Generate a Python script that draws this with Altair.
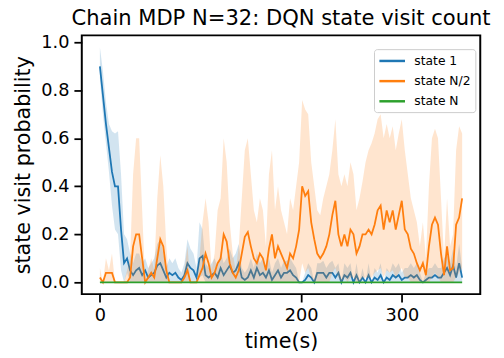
import altair as alt
import pandas as pd

# time grid (seconds)
t = list(range(0, 361, 3))

series = ["state 1", "state N/2", "state N"]
colors = ["#1f77b4", "#ff7f0e", "#2ca02c"]

blue_mean = [
    0.9, 0.78, 0.66, 0.56, 0.46, 0.4, 0.4, 0.22, 0.08, 0.1,
    0.05, 0.03, 0.05, 0.06, 0.03, 0.05, 0.02, 0.03, 0.04, 0.07,
    0.08, 0.05, 0.02, 0.04, 0.03, 0.04, 0.02, 0.01, 0.03, 0.08,
    0.06, 0.05, 0.02, 0.1, 0.11, 0.03, 0.02, 0.03, 0.04, 0.02,
    0.06, 0.03, 0.05, 0.07, 0.04, 0.05, 0.08, 0.02, 0.01, 0.02,
    0.05, 0.02, 0.06, 0.03, 0.04, 0.02, 0.05, 0.01, 0.03, 0.05,
    0.02, 0.04, 0.04, 0.05, 0.03, 0.02, 0.0, 0.0, 0.01, 0.03,
    0.02, 0.0, 0.04, 0.04, 0.04, 0.02, 0.04, 0.04, 0.02, 0.04,
    0.0, 0.03, 0.02, 0.04, 0.0, 0.03, 0.0, 0.02, 0.0, 0.03,
    0.0, 0.02, 0.01, 0.03, 0.0, 0.02, 0.01, 0.03, 0.02, 0.03,
    0.01, 0.02, 0.02, 0.03, 0.02, 0.03, 0.01, 0.0, 0.01, 0.02,
    0.02, 0.03, 0.02, 0.02, 0.04, 0.06, 0.03, 0.07, 0.02, 0.08,
    0.02,
]
blue_hi = [
    0.98, 0.88, 0.75, 0.66, 0.63, 0.62, 0.63, 0.45, 0.2, 0.18,
    0.12, 0.08, 0.12, 0.12, 0.08, 0.1, 0.06, 0.08, 0.1, 0.16,
    0.18, 0.12, 0.06, 0.1, 0.08, 0.1, 0.06, 0.04, 0.08, 0.18,
    0.14, 0.12, 0.06, 0.25, 0.22, 0.08, 0.06, 0.08, 0.1, 0.06,
    0.13, 0.08, 0.1, 0.14, 0.1, 0.12, 0.16, 0.06, 0.04, 0.06,
    0.1, 0.06, 0.12, 0.08, 0.1, 0.06, 0.1, 0.04, 0.08, 0.1,
    0.06, 0.09, 0.09, 0.1, 0.08, 0.06, 0.0, 0.0, 0.04, 0.08,
    0.06, 0.0, 0.08, 0.08, 0.09, 0.06, 0.08, 0.09, 0.06, 0.08,
    0.0, 0.08, 0.06, 0.08, 0.0, 0.08, 0.0, 0.06, 0.0, 0.08,
    0.0, 0.06, 0.04, 0.08, 0.0, 0.06, 0.04, 0.08, 0.06, 0.08,
    0.04, 0.06, 0.06, 0.08, 0.06, 0.08, 0.04, 0.0, 0.04, 0.06,
    0.06, 0.08, 0.06, 0.06, 0.1, 0.12, 0.08, 0.14, 0.06, 0.16,
    0.06,
]
blue_lo = [
    0.85, 0.7, 0.58, 0.46, 0.32, 0.22, 0.2, 0.05, 0.0, 0.04,
    0.0, 0.0, 0.0, 0.0, 0.0, 0.0, 0.0, 0.0, 0.0, 0.0,
    0.0, 0.0, 0.0, 0.0, 0.0, 0.0, 0.0, 0.0, 0.0, 0.0,
    0.0, 0.0, 0.0, 0.02, 0.03, 0.0, 0.0, 0.0, 0.0, 0.0,
    0.0, 0.0, 0.0, 0.0, 0.0, 0.0, 0.0, 0.0, 0.0, 0.0,
    0.0, 0.0, 0.0, 0.0, 0.0, 0.0, 0.0, 0.0, 0.0, 0.0,
    0.0, 0.0, 0.0, 0.0, 0.0, 0.0, 0.0, 0.0, 0.0, 0.0,
    0.0, 0.0, 0.0, 0.0, 0.0, 0.0, 0.0, 0.0, 0.0, 0.0,
    0.0, 0.0, 0.0, 0.0, 0.0, 0.0, 0.0, 0.0, 0.0, 0.0,
    0.0, 0.0, 0.0, 0.0, 0.0, 0.0, 0.0, 0.0, 0.0, 0.0,
    0.0, 0.0, 0.0, 0.0, 0.0, 0.0, 0.0, 0.0, 0.0, 0.0,
    0.0, 0.0, 0.0, 0.0, 0.0, 0.0, 0.0, 0.0, 0.0, 0.0,
    0.0,
]

orange_mean = [
    0.02, 0.0, 0.04, 0.04, 0.04, 0.0, 0.0, 0.0, 0.0, 0.0,
    0.02, 0.15, 0.2, 0.2, 0.1, 0.0, 0.02, 0.04, 0.02, 0.1,
    0.18, 0.15, 0.05, 0.0, 0.0, 0.0, 0.0, 0.0, 0.02, 0.05,
    0.0, 0.0, 0.0, 0.03, 0.06, 0.12, 0.08, 0.02, 0.04, 0.08,
    0.1, 0.2, 0.17, 0.08, 0.04, 0.02, 0.05, 0.12, 0.19, 0.21,
    0.15, 0.1, 0.08, 0.12, 0.1, 0.05, 0.14, 0.2, 0.1, 0.15,
    0.12, 0.09, 0.06, 0.12, 0.1, 0.15, 0.22, 0.4, 0.36, 0.38,
    0.25, 0.18, 0.12, 0.1, 0.12, 0.15, 0.2, 0.28, 0.34, 0.2,
    0.15, 0.2, 0.15, 0.22, 0.2, 0.12, 0.15, 0.2, 0.2, 0.22,
    0.2, 0.24, 0.3, 0.32, 0.22, 0.3, 0.25, 0.3, 0.22, 0.28,
    0.34, 0.22, 0.2, 0.14, 0.12, 0.08, 0.05, 0.08, 0.03, 0.15,
    0.24, 0.27, 0.24, 0.12, 0.03, 0.15, 0.05, 0.06, 0.24, 0.27,
    0.35,
]
orange_hi = [
    0.06, 0.0, 0.1, 0.05, 0.12, 0.0, 0.0, 0.0, 0.0, 0.05,
    0.1, 0.45, 0.6, 0.6, 0.3, 0.0, 0.05, 0.1, 0.05, 0.35,
    0.53, 0.4, 0.15, 0.0, 0.0, 0.0, 0.0, 0.0, 0.05, 0.15,
    0.0, 0.0, 0.0, 0.1, 0.25, 0.35, 0.25, 0.05, 0.12, 0.3,
    0.35, 0.6, 0.5, 0.25, 0.12, 0.05, 0.15, 0.35, 0.55, 0.6,
    0.45, 0.3, 0.25, 0.35, 0.3, 0.15, 0.45, 0.55, 0.3, 0.4,
    0.3, 0.25, 0.2, 0.35, 0.3, 0.4, 0.5, 0.76, 0.72, 0.7,
    0.5, 0.4, 0.3, 0.28, 0.35, 0.4, 0.45, 0.55, 0.68, 0.45,
    0.4, 0.45, 0.4, 0.5, 0.45, 0.3, 0.35, 0.42, 0.5, 0.55,
    0.58, 0.62, 0.68, 0.7, 0.6, 0.66, 0.6, 0.65, 0.55, 0.62,
    0.68, 0.55, 0.45, 0.35, 0.3, 0.25, 0.15, 0.25, 0.1, 0.4,
    0.6, 0.64, 0.6, 0.35, 0.1, 0.35, 0.15, 0.2, 0.55, 0.65,
    0.62,
]
orange_lo = [
    0.0, 0.0, 0.0, 0.0, 0.0, 0.0, 0.0, 0.0, 0.0, 0.0,
    0.0, 0.0, 0.0, 0.0, 0.0, 0.0, 0.0, 0.0, 0.0, 0.0,
    0.0, 0.0, 0.0, 0.0, 0.0, 0.0, 0.0, 0.0, 0.0, 0.0,
    0.0, 0.0, 0.0, 0.0, 0.0, 0.0, 0.0, 0.0, 0.0, 0.0,
    0.0, 0.0, 0.0, 0.0, 0.0, 0.0, 0.0, 0.0, 0.0, 0.0,
    0.0, 0.0, 0.0, 0.0, 0.0, 0.0, 0.0, 0.0, 0.0, 0.0,
    0.0, 0.0, 0.0, 0.0, 0.0, 0.0, 0.0, 0.08, 0.04, 0.06,
    0.02, 0.0, 0.0, 0.0, 0.0, 0.0, 0.0, 0.04, 0.06, 0.02,
    0.0, 0.02, 0.0, 0.02, 0.02, 0.0, 0.0, 0.02, 0.02, 0.02,
    0.02, 0.04, 0.05, 0.06, 0.02, 0.05, 0.04, 0.05, 0.02, 0.04,
    0.06, 0.02, 0.02, 0.0, 0.0, 0.0, 0.0, 0.0, 0.0, 0.0,
    0.02, 0.04, 0.02, 0.0, 0.0, 0.0, 0.0, 0.0, 0.02, 0.04,
    0.06,
]

green_mean = [0.0] * len(t)
green_lo = [0.0] * len(t)
green_hi = [0.0] * len(t)

rows = []
for name, m, lo, hi in [
    ("state 1", blue_mean, blue_lo, blue_hi),
    ("state N/2", orange_mean, orange_lo, orange_hi),
    ("state N", green_mean, green_lo, green_hi),
]:
    for ti, a, b, c in zip(t, m, lo, hi):
        rows.append({"t": ti, "series": name, "mean": a, "lo": b, "hi": c})
df = pd.DataFrame(rows)

FONT = "DejaVu Sans"
xscale = alt.Scale(domain=[-18, 378], nice=False, zero=False)
yscale = alt.Scale(domain=[-0.049, 1.029], nice=False, zero=False)
xaxis = alt.Axis(values=[0, 100, 200, 300], title="time(s)", labelFlush=False)
yaxis = alt.Axis(values=[0, 0.2, 0.4, 0.6, 0.8, 1.0], format=".1f",
                 title="state visit probability", labelFlush=False)

legend = alt.Legend(
    title=None, orient="none", legendX=297, legendY=14,
    symbolType="M-1,0H3", symbolSize=169, symbolStrokeWidth=2.5,
    labelFont=FONT, labelFontSize=12.5, labelColor="black", labelOffset=21,
    rowPadding=5.5, padding=4, fillColor="rgba(255,255,255,0.8)",
    strokeColor="#cccccc", cornerRadius=3,
)
color = alt.Color("series:N", scale=alt.Scale(domain=series, range=colors), legend=legend)

base = alt.Chart(df)
layers = []
for name, col in zip(series, colors):
    sub = base.transform_filter(alt.datum.series == name)
    line = sub.mark_line(strokeWidth=1.8).encode(
        x=alt.X("t:Q", scale=xscale, axis=xaxis),
        y=alt.Y("mean:Q", scale=yscale, axis=yaxis),
        color=color,
    )
    band = sub.mark_area(opacity=0.2, color=col).encode(
        x=alt.X("t:Q", scale=xscale, axis=xaxis),
        y=alt.Y("lo:Q", scale=yscale, axis=yaxis),
        y2="hi:Q",
    )
    layers += [line, band]

chart = alt.layer(*layers).properties(
    width=405, height=263,
    title=alt.TitleParams(
        "Chain MDP N=32: DQN state visit count", font=FONT, fontSize=21.4,
        fontWeight="normal", color="black", anchor="middle", frame="group",
        offset=4,
    ),
    autosize=alt.AutoSizeParams(type="none"),
    padding={"left": 75, "top": 25, "right": 16, "bottom": 56},
).configure_view(
    stroke="black", strokeWidth=2,
).configure_axis(
    grid=False, domain=False, ticks=True, tickSize=8, tickWidth=1.8,
    tickColor="black", labelFont=FONT, labelFontSize=18, labelColor="black",
    titleFont=FONT, titleFontSize=21, titleFontWeight="normal", titleColor="black",
    labelPadding=5,
).configure_axisY(titlePadding=8).configure_axisX(titlePadding=6)

chart.save("out.html", embed_options={"renderer": "svg", "actions": False})
